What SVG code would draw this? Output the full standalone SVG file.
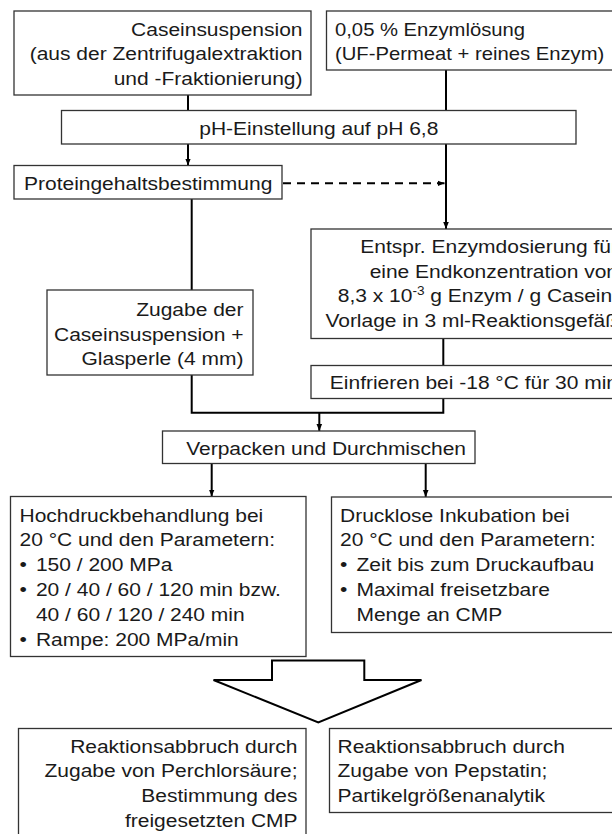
<svg xmlns="http://www.w3.org/2000/svg" width="612" height="834" viewBox="0 0 612 834">
<style>
.box{fill:#fff;stroke:#333;stroke-width:1.3}
.t{font-family:"Liberation Sans",Arial,sans-serif;font-size:18.5px;fill:#1a1a1a}
.e{text-anchor:end}
.m{text-anchor:middle}
.c{fill:none;stroke:#000;stroke-width:2}
.d{stroke-dasharray:8 6}
.big{fill:#fff;stroke:#000;stroke-width:2;stroke-linejoin:miter}
</style>
<defs>
<marker id="ah" viewBox="0 0 10 10" refX="10" refY="5" markerUnits="userSpaceOnUse" markerWidth="7" markerHeight="7" orient="auto">
<path d="M0,1 L10,5 L0,9 z" fill="#000"/>
</marker>
</defs>
<rect width="612" height="834" fill="#fff"/>

<g id="connectors">
<line class="c" x1="188" y1="95" x2="188" y2="110.5"/>
<line class="c" x1="446" y1="70" x2="446" y2="110.5"/>
<line class="c" x1="188" y1="144" x2="188" y2="165.5" marker-end="url(#ah)"/>
<line class="c d" x1="283" y1="183.3" x2="444.5" y2="183.3" marker-end="url(#ah)"/>
<line class="c" x1="446" y1="144" x2="446" y2="229" marker-end="url(#ah)"/>
<line class="c" x1="191.7" y1="199" x2="191.7" y2="290"/>
<path class="c" d="M191.7 375 V412.7 H443.3 V398.5"/>
<line class="c" x1="443.3" y1="338.5" x2="443.3" y2="365.5"/>
<line class="c" x1="319.3" y1="412.7" x2="319.3" y2="431" marker-end="url(#ah)"/>
<line class="c" x1="211.7" y1="463.5" x2="211.7" y2="496.5" marker-end="url(#ah)"/>
<line class="c" x1="425.7" y1="463.5" x2="425.7" y2="497" marker-end="url(#ah)"/>
</g>

<g id="n-casein">
<rect class="box" x="14" y="11" width="297" height="84"/>
<text class="t e" transform="translate(302.5,35.5) scale(1.135,1)"><tspan x="0" y="0">Caseinsuspension</tspan><tspan x="0" y="25">(aus der Zentrifugalextraktion</tspan><tspan x="0" y="50">und -Fraktionierung)</tspan></text>
</g>

<g id="n-enzym">
<rect class="box" x="326.5" y="11" width="290" height="59"/>
<text class="t" transform="translate(335,35.5) scale(1.095,1)"><tspan x="0" y="0">0,05 % Enzymlösung</tspan><tspan x="0" y="25">(UF-Permeat + reines Enzym)</tspan></text>
</g>

<g id="n-ph">
<rect class="box" x="61.5" y="110.5" width="514.5" height="33.5"/>
<text class="t m" transform="translate(318.8,134.5) scale(1.135,1)">pH-Einstellung auf pH 6,8</text>
</g>

<g id="n-protein">
<rect class="box" x="14" y="165.5" width="268" height="33.5"/>
<text class="t" transform="translate(24,190) scale(1.135,1)">Proteingehaltsbestimmung</text>
</g>

<g id="n-zugabe">
<rect class="box" x="47" y="290" width="206" height="85"/>
<text class="t e" transform="translate(243.5,316) scale(1.135,1)"><tspan x="0" y="0">Zugabe der</tspan><tspan x="0" y="25">Caseinsuspension +</tspan><tspan x="0" y="49.5">Glasperle (4 mm)</tspan></text>
</g>

<g id="n-dosierung">
<rect class="box" x="311" y="229" width="310" height="109.5"/>
<text class="t e" transform="translate(618,253) scale(1.135,1)"><tspan x="0" y="0">Entspr. Enzymdosierung für</tspan><tspan x="0" y="25">eine Endkonzentration von</tspan><tspan x="0" y="49.5">8,3 x 10</tspan><tspan font-size="12" dy="-7">-3</tspan><tspan dy="7"> g Enzym / g Casein,</tspan><tspan x="0" y="74">Vorlage in 3 ml-Reaktionsgefäß</tspan></text>
</g>

<g id="n-einfrieren">
<rect class="box" x="311" y="365.5" width="310" height="33"/>
<text class="t e" transform="translate(618,389) scale(1.135,1)">Einfrieren bei -18 °C für 30 min</text>
</g>

<g id="n-verpacken">
<rect class="box" x="162.5" y="431" width="312.5" height="32.5"/>
<text class="t e" transform="translate(466,454.5) scale(1.135,1)">Verpacken und Durchmischen</text>
</g>

<g id="n-hochdruck">
<rect class="box" x="10.5" y="496.5" width="295.5" height="160"/>
<text class="t" transform="translate(19.5,521.5) scale(1.135,1)"><tspan x="0" y="0">Hochdruckbehandlung bei</tspan><tspan x="0" y="25">20 °C und den Parametern:</tspan><tspan x="0" y="50">•</tspan><tspan x="14.5" y="50">150 / 200 MPa</tspan><tspan x="0" y="75">•</tspan><tspan x="14.5" y="75">20 / 40 / 60 / 120 min bzw.</tspan><tspan x="14.5" y="100">40 / 60 / 120 / 240 min</tspan><tspan x="0" y="125">•</tspan><tspan x="14.5" y="125">Rampe: 200 MPa/min</tspan></text>
</g>

<g id="n-drucklos">
<rect class="box" x="331.5" y="497" width="290" height="135.5"/>
<text class="t" transform="translate(340,521.5) scale(1.135,1)"><tspan x="0" y="0">Drucklose Inkubation bei</tspan><tspan x="0" y="25">20 °C und den Parametern:</tspan><tspan x="0" y="50">•</tspan><tspan x="14.5" y="50">Zeit bis zum Druckaufbau</tspan><tspan x="0" y="75">•</tspan><tspan x="14.5" y="75">Maximal freisetzbare</tspan><tspan x="14.5" y="100">Menge an CMP</tspan></text>
</g>

<g id="n-bigarrow">
<polygon class="big" points="272,660.5 364.3,660.5 364.3,680 421.5,680 318.3,722.5 213.5,680 272,680"/>
</g>

<g id="n-abbruch1">
<rect class="box" x="18.5" y="728.5" width="287.5" height="120"/>
<text class="t e" transform="translate(297.5,752.5) scale(1.135,1)"><tspan x="0" y="0">Reaktionsabbruch durch</tspan><tspan x="0" y="25">Zugabe von Perchlorsäure;</tspan><tspan x="0" y="49.5">Bestimmung des</tspan><tspan x="0" y="74.5">freigesetzten CMP</tspan></text>
</g>

<g id="n-abbruch2">
<rect class="box" x="329.5" y="728.5" width="290" height="84"/>
<text class="t" transform="translate(337.5,752.5) scale(1.135,1)"><tspan x="0" y="0">Reaktionsabbruch durch</tspan><tspan x="0" y="25">Zugabe von Pepstatin;</tspan><tspan x="0" y="49.5">Partikelgrößenanalytik</tspan></text>
</g>
</svg>
